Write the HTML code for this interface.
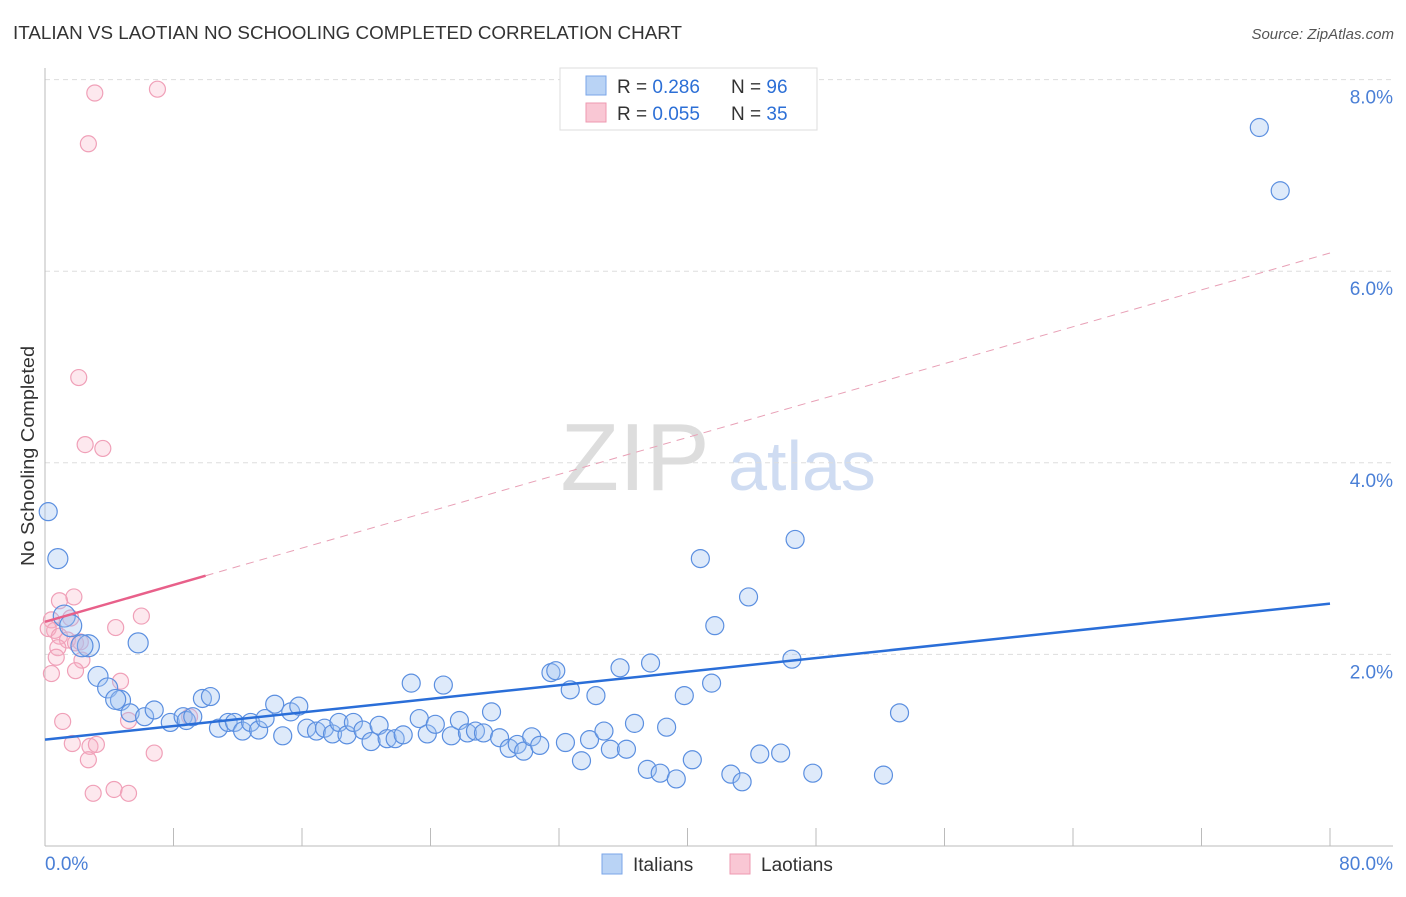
<!DOCTYPE html>
<html><head><meta charset="utf-8"><style>
body{margin:0;background:#fff;font-family:"Liberation Sans",sans-serif;}
svg text{font-family:"Liberation Sans",sans-serif;}
</style></head><body>
<svg id="chart" width="1406" height="892" viewBox="0 0 1406 892" xmlns="http://www.w3.org/2000/svg">
<text x="13" y="39" font-size="18" fill="#333" textLength="669" lengthAdjust="spacingAndGlyphs">ITALIAN VS LAOTIAN NO SCHOOLING COMPLETED CORRELATION CHART</text>
<text x="1394" y="39" font-size="15" fill="#555" text-anchor="end" font-style="italic">Source: ZipAtlas.com</text>
<text transform="translate(34,456) rotate(-90)" font-size="18" fill="#333" text-anchor="middle" textLength="220" lengthAdjust="spacingAndGlyphs">No Schooling Completed</text>
<g>
<text x="635" y="490" font-size="96" fill="#ddd" text-anchor="middle" font-family="Liberation Serif,serif">ZIP</text>
<text x="802" y="490" font-size="70" fill="#cfdcf2" text-anchor="middle">atlas</text>
</g>
<g id="grid"></g>
<g id="axes"></g>
<g id="pts"></g>
<g id="lines"></g>
<g>
<rect x="560" y="68" width="257" height="62" fill="#fff" stroke="#ddd"/>
<rect x="586" y="76" width="20" height="19" fill="#b9d3f5" stroke="#7aa6e8"/>
<text x="617" y="93" font-size="19" fill="#333">R = <tspan fill="#2c6fd6">0.286</tspan></text>
<text x="731" y="93" font-size="19" fill="#333">N = <tspan fill="#2c6fd6">96</tspan></text>
<rect x="586" y="103" width="20" height="19" fill="#f9c7d4" stroke="#ee9ab0"/>
<text x="617" y="120" font-size="19" fill="#333">R = <tspan fill="#2c6fd6">0.055</tspan></text>
<text x="731" y="120" font-size="19" fill="#333">N = <tspan fill="#2c6fd6">35</tspan></text>
</g>
<g>
<rect x="602" y="854" width="20" height="20" fill="#b9d3f5" stroke="#7aa6e8"/>
<text x="633" y="871" font-size="19" fill="#333">Italians</text>
<rect x="730" y="854" width="20" height="20" fill="#f9c7d4" stroke="#ee9ab0"/>
<text x="761" y="871" font-size="19" fill="#333">Laotians</text>
</g>
</svg>
<script>
const yTicks=[2,4,6,8];
const xTickLabels=["0.0%","80.0%"];
const italianX=[0.2,0.8,1.2,1.6,2.7,2.3,5.8,3.3,3.9,4.7,4.4,5.3,6.2,6.8,7.8,8.6,8.8,9.2,9.8,10.3,10.8,11.4,11.8,12.3,12.8,13.3,13.7,14.3,14.8,15.3,15.8,16.3,16.9,17.4,17.9,18.3,18.8,19.2,19.8,20.3,20.8,21.3,21.8,22.3,22.8,23.3,23.8,24.3,24.8,25.3,25.8,26.3,26.8,27.3,27.8,28.3,28.9,29.4,29.8,30.3,30.8,31.5,31.8,32.4,32.7,33.4,33.9,34.3,34.8,35.2,35.8,36.2,36.7,37.5,37.7,38.3,38.7,39.3,39.8,40.3,40.8,41.5,41.7,42.7,43.4,43.8,44.5,45.8,46.5,46.7,47.8,52.2,53.2,75.6,76.9];
const italianY=[3.49,3.0,2.4,2.3,2.09,2.09,2.12,1.77,1.65,1.52,1.53,1.39,1.35,1.42,1.29,1.35,1.31,1.35,1.54,1.56,1.23,1.29,1.29,1.2,1.29,1.21,1.33,1.48,1.15,1.4,1.46,1.23,1.2,1.23,1.17,1.29,1.16,1.29,1.21,1.09,1.26,1.12,1.12,1.16,1.7,1.33,1.17,1.27,1.68,1.15,1.31,1.18,1.2,1.18,1.4,1.13,1.02,1.06,0.99,1.14,1.05,1.81,1.83,1.08,1.63,0.89,1.11,1.57,1.2,1.01,1.86,1.01,1.28,0.8,1.91,0.76,1.24,0.7,1.57,0.9,3.0,1.7,2.3,0.75,0.67,2.6,0.96,0.97,1.95,3.2,0.76,0.74,1.39,7.5,6.84];
const laotianX=[3.1,7.0,2.7,2.1,2.5,3.6,1.8,0.9,6.0,4.4,0.4,0.6,0.2,0.9,1.4,1.9,0.8,2.3,2.2,0.7,1.9,0.4,4.7,1.1,5.2,9.0,1.7,2.8,3.2,2.7,6.8,3.0,4.3,5.2,1.6];
const laotianY=[7.86,7.9,7.33,4.89,4.19,4.15,2.6,2.56,2.4,2.28,2.36,2.25,2.27,2.19,2.15,2.12,2.07,1.94,2.13,1.97,1.83,1.8,1.72,1.3,1.31,1.35,1.07,1.04,1.06,0.9,0.97,0.55,0.59,0.55,2.38];
const italianR=[9,10,11,11,11,11,10,10,10,10,10].concat(Array(85).fill(9));
const italTrend=[1.11,2.53], laoTrend=[2.34,6.19];
const laoSolidEnd=10;
const X=v=>45+v/80*1285, Y=v=>846-v*95.8;
const NS="http://www.w3.org/2000/svg";
function mk(p,t,a){const e=document.createElementNS(NS,t);for(const k in a)e.setAttribute(k,a[k]);document.getElementById(p).appendChild(e);return e;}
yTicks.forEach(t=>{
 const l=mk('grid','line',{x1:45,x2:1393,y1:Y(t),y2:Y(t),stroke:'#ddd','stroke-dasharray':'5,4'});
 
 
 const tx=mk('grid','text',{x:1393,y:Y(t)+24,'font-size':19,fill:'#4a7fd6','text-anchor':'end'});
 tx.textContent=t.toFixed(1)+'%';
 
 
});
mk('axes','line',{x1:45,x2:45,y1:68,y2:846,stroke:'#bbb'});
mk('axes','line',{x1:45,x2:1393,y1:846,y2:846,stroke:'#bbb'});
for(let i=0;i<=10;i++){mk('axes','line',{x1:X(i*8),x2:X(i*8),y1:828,y2:846,stroke:'#bbb'});}
let xl=mk('axes','text',{x:45,y:870,'font-size':19,fill:'#4a7fd6'});xl.textContent=xTickLabels[0];


xl=mk('axes','text',{x:1393,y:870,'font-size':19,fill:'#4a7fd6','text-anchor':'end'});xl.textContent=xTickLabels[1];


laotianX.forEach((v,i)=>{const c=mk('pts','circle',{cx:X(v),cy:Y(laotianY[i]),r:8,fill:'rgba(247,180,200,0.3)',stroke:'#f0a0b8','stroke-width':1.2});
 
 });
italianX.forEach((v,i)=>{const c=mk('pts','circle',{cx:X(v),cy:Y(italianY[i]),r:italianR[i],fill:'rgba(160,195,240,0.35)',stroke:'#5b8fe0','stroke-width':1.2});
 
 });
const lt=v=>laoTrend[0]+(laoTrend[1]-laoTrend[0])*v/80;
let a=mk('lines','line',{x1:X(0),y1:Y(lt(0)),x2:X(laoSolidEnd),y2:Y(lt(laoSolidEnd)),stroke:'#e8608a','stroke-width':2.5});


a=mk('lines','line',{x1:X(laoSolidEnd),y1:Y(lt(laoSolidEnd)),x2:X(80),y2:Y(lt(80)),stroke:'#e8a0b6','stroke-width':1,'stroke-dasharray':'8,6'});


a=mk('lines','line',{x1:X(0),y1:Y(italTrend[0]),x2:X(80),y2:Y(italTrend[1]),stroke:'#2a6ed8','stroke-width':2.5});


</script>
</body></html>
